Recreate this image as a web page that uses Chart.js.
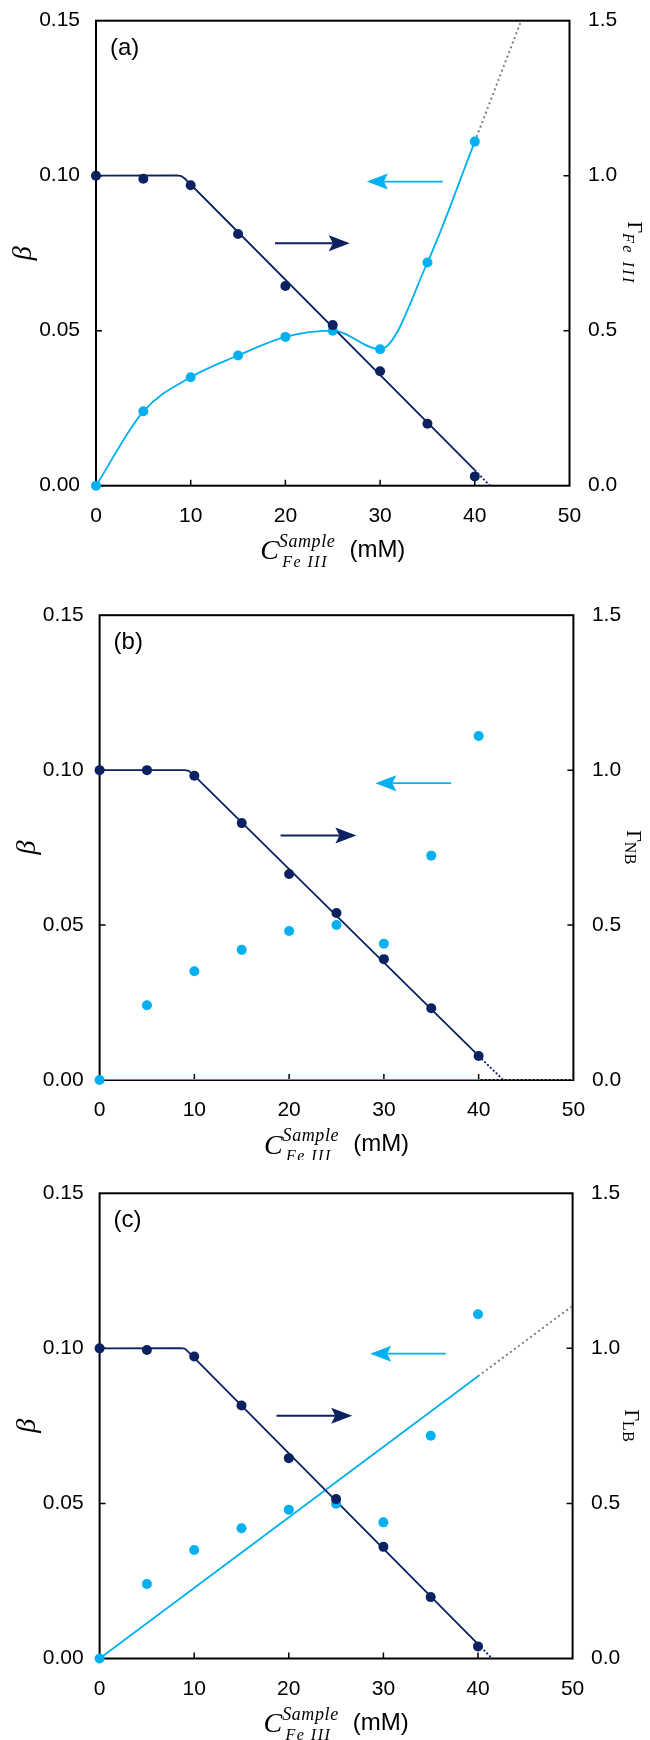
<!DOCTYPE html>
<html>
<head>
<meta charset="utf-8">
<script src="https://cdn.jsdelivr.net/npm/chart.js@4.4.0/dist/chart.umd.min.js"></script>
<style>
  body { margin: 0; background: #fff; }
  canvas { display: block; }
</style>
</head>
<body>
<canvas id="chart-a" width="650" height="580"></canvas>
<canvas id="chart-b" width="650" height="580"></canvas>
<canvas id="chart-c" width="650" height="580"></canvas>
<script>
// sample concentration (mM)
const conc = [0, 5, 10, 15, 20, 25, 30, 35, 40];

// beta (left axis), light blue points
const beta_a = [0, 0.024, 0.035, 0.042, 0.048, 0.050, 0.044, 0.072, 0.111];
const beta_b = [0, 0.0241, 0.0351, 0.042, 0.0481, 0.050, 0.044, 0.0724, 0.111];
const beta_c = [0, 0.024, 0.035, 0.042, 0.048, 0.0499, 0.0439, 0.0718, 0.111];

// gamma (right axis), navy points
const gamma_a = [1.0, 0.99, 0.969, 0.812, 0.644, 0.518, 0.369, 0.200, 0.030];
const gamma_b = [1.0, 1.0, 0.982, 0.829, 0.665, 0.539, 0.390, 0.2315, 0.0776];
const gamma_c = [1.0, 0.995, 0.974, 0.816, 0.646, 0.514, 0.360, 0.198, 0.039];

// navy model lines (gamma), solid part and dotted tail
const gfit_a_x = [0, 8.6, 9.0, 9.4, 40], gfit_a_y = [1.0, 1.001, 0.999, 0.99, 0.05];
const gtail_a_x = [40, 41.6], gtail_a_y = [0.05, 0];
const gfit_b_x = [0, 9.0, 9.4, 9.8, 40], gfit_b_y = [1.0, 1.0, 0.998, 0.988, 0.0776];
const gtail_b_x = [40, 42.6], gtail_b_y = [0.0776, 0];
const gfit_c_x = [0, 8.6, 9.0, 9.4, 40], gfit_c_y = [1.0, 1.001, 0.999, 0.988, 0.046];
const gtail_c_x = [40, 41.5], gtail_c_y = [0.046, 0];

// light blue model lines (beta) and grey dotted extensions
const bfit_b_x = [0, 40], bfit_b_y = [0, 0];
const bfit_c_x = [0, 40], bfit_c_y = [0, 0.091];
const bext_a_x = [40, 45], bext_a_y = [0.111, 0.1508];
const bext_b_x = [40, 50], bext_b_y = [0, 0];
const bext_c_x = [40, 50], bext_c_y = [0.091, 0.1137];

// direction arrows: [from x, to x, beta level]
const arrowBlue_a = [36.6, 28.6, 0.0981], arrowNavy_a = [18.9, 26.8, 0.0782];
const arrowBlue_b = [37.1, 29.1, 0.0958], arrowNavy_b = [19.1, 27.1, 0.0789];
const arrowBlue_c = [36.6, 28.6, 0.0983], arrowNavy_c = [18.7, 26.7, 0.0783];

const xTicks = [0, 10, 20, 30, 40, 50];
const betaTicks = [0, 0.05, 0.10, 0.15];
const gammaTicks = [0, 0.5, 1.0, 1.5];

const NAVY = '#0c2160';
const BLUE = '#00b0f0';
const GREY = '#7f7f7f';
const SANS = "'Liberation Sans', Arial, sans-serif";
const SERIF = "'Liberation Serif', 'Times New Roman', serif";

Chart.defaults.font.family = SANS;
Chart.defaults.font.size = 21;
Chart.defaults.color = '#000';

const pts = (xs, ys) => xs.map((x, i) => ({ x: x, y: ys[i] }));

function drawArrow(ctx, x0, x1, y, color, lw) {
    const dir = Math.sign(x1 - x0);
    const len = 21, half = 8, notch = 4;
    ctx.strokeStyle = color;
    ctx.fillStyle = color;
    ctx.lineWidth = lw;
    ctx.beginPath();
    ctx.moveTo(x0, y);
    ctx.lineTo(x1 - dir * (len - notch), y);
    ctx.stroke();
    ctx.beginPath();
    ctx.moveTo(x1, y);
    ctx.lineTo(x1 - dir * len, y - half);
    ctx.lineTo(x1 - dir * (len - notch), y);
    ctx.lineTo(x1 - dir * len, y + half);
    ctx.closePath();
    ctx.fill();
}

const decor = {
    id: 'decor',
    beforeDatasetsDraw(chart, args, o) {
        const { ctx, chartArea: a, scales } = chart;
        ctx.save();
        ctx.strokeStyle = '#000';
        ctx.lineWidth = 1.5;
        ctx.beginPath();
        xTicks.slice(1, -1).forEach(v => {
            const px = scales.x.getPixelForValue(v);
            ctx.moveTo(px, a.bottom); ctx.lineTo(px, a.bottom - 6);
        });
        betaTicks.slice(1, -1).forEach(v => {
            const py = scales.y.getPixelForValue(v);
            ctx.moveTo(a.left, py); ctx.lineTo(a.left + 6, py);
        });
        gammaTicks.slice(1, -1).forEach(v => {
            const py = scales.y2.getPixelForValue(v);
            ctx.moveTo(a.right, py); ctx.lineTo(a.right - 6, py);
        });
        ctx.stroke();
        ctx.lineWidth = 2;
        ctx.strokeRect(a.left, a.top, a.right - a.left, a.bottom - a.top);
        ctx.restore();
    },
    afterDatasetsDraw(chart, args, o) {
        const { ctx, scales } = chart;
        ctx.save();
        const b = o.arrowBlue, n = o.arrowNavy;
        drawArrow(ctx, scales.x.getPixelForValue(b[0]), scales.x.getPixelForValue(b[1]), scales.y.getPixelForValue(b[2]), BLUE, 1.6);
        drawArrow(ctx, scales.x.getPixelForValue(n[0]), scales.x.getPixelForValue(n[1]), scales.y.getPixelForValue(n[2]), NAVY, 2);
        ctx.restore();
    },
    afterDraw(chart, args, o) {
        const { ctx, chartArea: a } = chart;
        const cy = (a.top + a.bottom) / 2;
        const cx = (a.left + a.right) / 2;
        ctx.save();
        ctx.fillStyle = '#000';
        ctx.textBaseline = 'alphabetic';

        // panel label
        ctx.font = '24px ' + SANS;
        ctx.textAlign = 'left';
        ctx.fillText(o.label, a.left + 14, a.top + 34);

        // left title
        ctx.save();
        ctx.translate(a.left - 72, cy);
        ctx.rotate(-Math.PI / 2);
        ctx.font = 'italic 28px ' + SERIF;
        ctx.textAlign = 'center';
        ctx.textBaseline = 'middle';
        ctx.fillText('β', 0, 0);
        ctx.restore();

        // right title
        ctx.save();
        ctx.translate(a.right + o.rightOff, cy);
        ctx.rotate(Math.PI / 2);
        ctx.textAlign = 'left';
        ctx.font = '20px ' + SERIF;
        const wG = ctx.measureText('Γ').width;
        ctx.font = o.subFont;
        ctx.letterSpacing = o.subSpacing;
        const wS = ctx.measureText(o.sub).width;
        let sx = -(wG + wS) / 2;
        ctx.letterSpacing = '0px';
        ctx.font = '20px ' + SERIF;
        ctx.fillText('Γ', sx, 0);
        ctx.font = o.subFont;
        ctx.letterSpacing = o.subSpacing;
        ctx.fillText(o.sub, sx + wG, o.subDrop);
        ctx.letterSpacing = '0px';
        ctx.restore();

        // x title
        ctx.textAlign = 'left';
        ctx.font = 'italic 28px ' + SERIF;
        const wC = ctx.measureText('C').width;
        ctx.font = 'italic 18px ' + SERIF;
        ctx.letterSpacing = '0.6px';
        const wSample = ctx.measureText('Sample').width;
        ctx.letterSpacing = '0px';
        ctx.font = '24px ' + SANS;
        const wMM = ctx.measureText('(mM)').width;
        const total = wC + wSample + 14 + wMM;
        const x0 = cx - total / 2;
        ctx.font = 'italic 28px ' + SERIF;
        ctx.fillText('C', x0, a.bottom + 73.5);
        ctx.font = 'italic 18px ' + SERIF;
        ctx.letterSpacing = '0.6px';
        ctx.fillText('Sample', x0 + wC, a.bottom + 61);
        ctx.font = 'italic 16px ' + SERIF;
        ctx.letterSpacing = '1.5px';
        ctx.fillText('Fe III', x0 + 22, a.bottom + 81);
        ctx.letterSpacing = '0px';
        ctx.font = '24px ' + SANS;
        ctx.fillText('(mM)', x0 + wC + wSample + 14, a.bottom + 71);
        ctx.restore();
    }
};

function marker(data, color, axis) {
    return { data: data, yAxisID: axis, showLine: false, pointRadius: 5, pointHoverRadius: 5,
             backgroundColor: color, pointBorderWidth: 0, borderWidth: 0, clip: false };
}
function line(data, color, axis, width, dash, mode) {
    return { data: data, yAxisID: axis, showLine: true, pointRadius: 0, borderColor: color,
             borderWidth: width, borderDash: dash || [], tension: 0,
             cubicInterpolationMode: mode || 'default' };
}

function noPad(s) {
    s.paddingTop = 0; s.paddingBottom = 0; s.paddingLeft = 0; s.paddingRight = 0;
}

function makeChart(id, p) {
    return new Chart(document.getElementById(id).getContext('2d'), {
        type: 'scatter',
        data: { datasets: p.datasets },
        options: {
            responsive: false,
            animation: false,
            events: [],
            layout: { padding: { top: p.top, left: 0, right: 0, bottom: 0 } },
            plugins: {
                legend: { display: false },
                tooltip: { enabled: false },
                decor: p.decor
            },
            scales: {
                x: {
                    type: 'linear', min: 0, max: 50,
                    afterBuildTicks: s => { s.ticks = xTicks.map(v => ({ value: v })); },
                    ticks: { padding: 18, callback: v => String(v) },
                    grid: { display: false, drawTicks: false }, border: { display: false },
                    afterFit: s => { s.height = p.bottomH; noPad(s); }
                },
                y: {
                    type: 'linear', position: 'left', min: 0, max: 0.15,
                    afterBuildTicks: s => { s.ticks = betaTicks.map(v => ({ value: v })); },
                    ticks: { padding: 16, callback: v => Number(v).toFixed(2) },
                    grid: { display: false, drawTicks: false }, border: { display: false },
                    afterFit: s => { s.width = p.leftW; noPad(s); }
                },
                y2: {
                    type: 'linear', position: 'right', min: 0, max: 1.5,
                    afterBuildTicks: s => { s.ticks = gammaTicks.map(v => ({ value: v })); },
                    ticks: { padding: 18.5, callback: v => Number(v).toFixed(1) },
                    grid: { display: false, drawTicks: false }, border: { display: false },
                    afterFit: s => { s.width = p.rightW; noPad(s); }
                }
            }
        },
        plugins: [decor]
    });
}

let chartA = makeChart('chart-a', {
    top: 20.7, leftW: 96, rightW: 80.5, bottomH: 94.3,
    datasets: [
        marker(pts(conc, gamma_a), NAVY, 'y2'),
        marker(pts(conc, beta_a), BLUE, 'y'),
        line(pts(gfit_a_x, gfit_a_y), NAVY, 'y2', 1.8),
        line(pts(gtail_a_x, gtail_a_y), NAVY, 'y2', 1.8, [2, 2]),
        line(pts(conc, beta_a), BLUE, 'y', 1.8, null, 'monotone'),
        line(pts(bext_a_x, bext_a_y), GREY, 'y', 2, [2, 3])
    ],
    decor: { label: '(a)', arrowBlue: arrowBlue_a, arrowNavy: arrowNavy_a, rightOff: 58.5,
             sub: 'Fe III', subFont: 'italic 16px ' + SERIF, subSpacing: '2.5px', subDrop: 5 }
});

let chartB = makeChart('chart-b', {
    top: 35.2, leftW: 99.6, rightW: 76.6, bottomH: 80,
    datasets: [
        marker(pts(conc, gamma_b), NAVY, 'y2'),
        marker(pts(conc, beta_b), BLUE, 'y'),
        line(pts(gfit_b_x, gfit_b_y), NAVY, 'y2', 1.8),
        line(pts(gtail_b_x, gtail_b_y), NAVY, 'y2', 1.8, [2, 2]),
        line(pts(bfit_b_x, bfit_b_y), BLUE, 'y', 2.2),
        line(pts(bext_b_x, bext_b_y), GREY, 'y', 2, [2, 2])
    ],
    decor: { label: '(b)', arrowBlue: arrowBlue_b, arrowNavy: arrowNavy_b, rightOff: 53.6,
             sub: 'NB', subFont: '16px ' + SERIF, subSpacing: '0.5px', subDrop: 2 }
});

let chartC = makeChart('chart-c', {
    top: 33.3, leftW: 99.6, rightW: 77.4, bottomH: 81.5,
    datasets: [
        marker(pts(conc, gamma_c), NAVY, 'y2'),
        marker(pts(conc, beta_c), BLUE, 'y'),
        line(pts(gfit_c_x, gfit_c_y), NAVY, 'y2', 1.8),
        line(pts(gtail_c_x, gtail_c_y), NAVY, 'y2', 1.8, [2, 2]),
        line(pts(bfit_c_x, bfit_c_y), BLUE, 'y', 1.8),
        line(pts(bext_c_x, bext_c_y), GREY, 'y', 2, [2, 3])
    ],
    decor: { label: '(c)', arrowBlue: arrowBlue_c, arrowNavy: arrowNavy_c, rightOff: 52,
             sub: 'LB', subFont: '16px ' + SERIF, subSpacing: '0.5px', subDrop: 2 }
});
</script>
</body>
</html>
